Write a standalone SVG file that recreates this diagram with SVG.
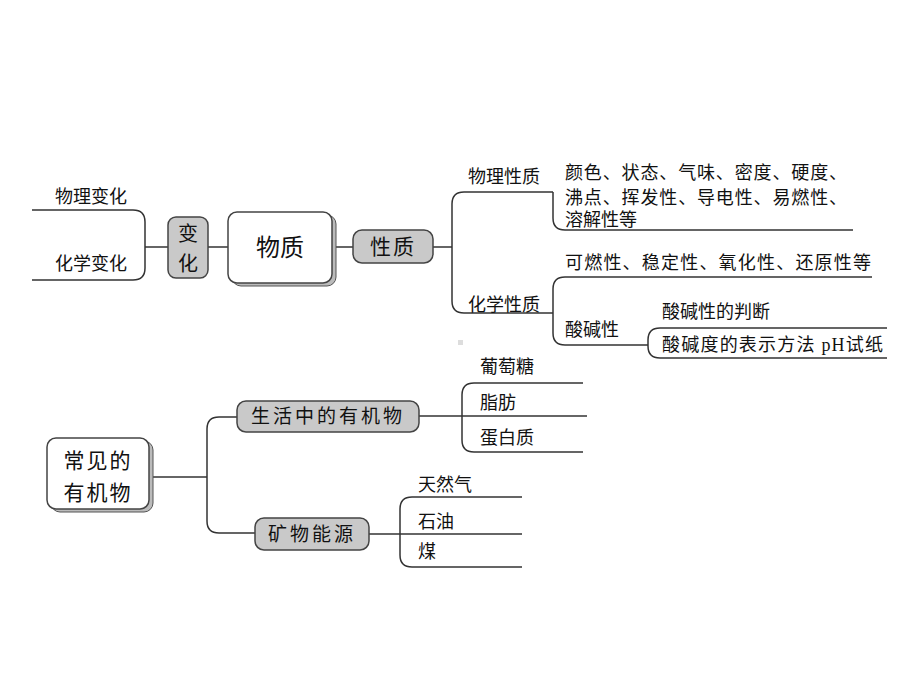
<svg xmlns="http://www.w3.org/2000/svg" width="920" height="690" viewBox="0 0 920 690">
<style>
.ln{fill:none;stroke:#333;stroke-width:1.5}
.gb{fill:#c9c9c9;stroke:#444;stroke-width:1.5}
.wb{fill:#fff;stroke:#444;stroke-width:1.5}
.sh{fill:#bbb;stroke:#555;stroke-width:1}
.t{font-family:"Liberation Serif","Noto Sans CJK SC",serif;font-size:18px;fill:#111}
.h{font-family:"Noto Sans CJK SC",sans-serif;fill:#111;text-anchor:middle}
</style>
<rect width="920" height="690" fill="#fff"/>
<g id="connectors">
<path class="ln" d="M32,210 H133 Q145,210 145,222 V268 Q145,280 133,280 H32"/>
<path class="ln" d="M145,247 H168"/>
<path class="ln" d="M208,247 H229"/>
<path class="ln" d="M332,247 H354"/>
<path class="ln" d="M433,247 H452"/>
<path class="ln" d="M553,192 H464 Q452,192 452,204 V301 Q452,313 464,313 H553"/>
<path class="ln" d="M553,192 V218 Q553,230 565,230 H853"/>
<path class="ln" d="M872,277 H565 Q553,277 553,289 V333 Q553,345 565,345 H648"/>
<path class="ln" d="M887,328 H660 Q648,328 648,340 V346 Q648,358 660,358 H887"/>
<path class="ln" d="M152,477 H207"/>
<path class="ln" d="M238,417 H219 Q207,417 207,429 V521 Q207,533 219,533 H256"/>
<path class="ln" d="M419,416 H587"/>
<path class="ln" d="M583,383 H474 Q462,383 462,395 V440 Q462,452 474,452 H583"/>
<path class="ln" d="M369,534 H522"/>
<path class="ln" d="M522,497 H412 Q400,497 400,509 V555 Q400,567 412,567 H522"/>
</g>
<g id="n-bianhua">
<rect class="gb" x="168" y="217" width="40" height="61" rx="8"/>
<text class="h" x="188" y="241" font-size="20">变</text>
<text class="h" x="188" y="271" font-size="20">化</text>
</g>
<g id="n-wuzhi">
<rect class="sh" x="232" y="215" width="104" height="71" rx="9"/>
<rect class="wb" x="228" y="212" width="104" height="71" rx="9"/>
<text class="h" x="280" y="256" font-size="24">物质</text>
</g>
<g id="n-xingzhi">
<rect class="gb" x="353" y="230" width="80" height="33" rx="9"/>
<text class="h" x="393" y="254" font-size="21" letter-spacing="2">性质</text>
</g>
<g id="n-youjiwu">
<rect class="sh" x="51" y="441" width="102" height="71" rx="9"/>
<rect class="wb" x="47" y="438" width="102" height="71" rx="9"/>
<text class="h" x="98" y="468" font-size="21" letter-spacing="2">常见的</text>
<text class="h" x="98" y="500" font-size="21" letter-spacing="2">有机物</text>
</g>
<g id="n-shenghuo">
<rect class="gb" x="237" y="401" width="182" height="31" rx="9"/>
<text class="h" x="328" y="423" font-size="19" letter-spacing="3">生活中的有机物</text>
</g>
<g id="n-kuangwu">
<rect class="gb" x="255" y="518" width="114" height="32" rx="9"/>
<text class="h" x="312" y="541" font-size="19" letter-spacing="3">矿物能源</text>
</g>
<g id="leaves">
<text class="t" x="55" y="203">物理变化</text>
<text class="t" x="55" y="270">化学变化</text>
<text class="t" x="468" y="183">物理性质</text>
<text class="t" x="468" y="311">化学性质</text>
<text class="t" x="565" y="179" textLength="282">颜色、状态、气味、密度、硬度、</text>
<text class="t" x="565" y="204" textLength="282">沸点、挥发性、导电性、易燃性、</text>
<text class="t" x="565" y="226">溶解性等</text>
<text class="t" x="565" y="269" textLength="306">可燃性、稳定性、氧化性、还原性等</text>
<text class="t" x="565" y="336">酸碱性</text>
<text class="t" x="662" y="318">酸碱性的判断</text>
<text class="t" x="662" y="351" textLength="221">酸碱度的表示方法  pH试纸</text>
<text class="t" x="480" y="373">葡萄糖</text>
<text class="t" x="480" y="409">脂肪</text>
<text class="t" x="480" y="444">蛋白质</text>
<text class="t" x="418" y="491">天然气</text>
<text class="t" x="418" y="528">石油</text>
<text class="t" x="418" y="558">煤</text>
</g>
<rect x="458" y="340" width="5" height="5" fill="#ddd"/>
</svg>
